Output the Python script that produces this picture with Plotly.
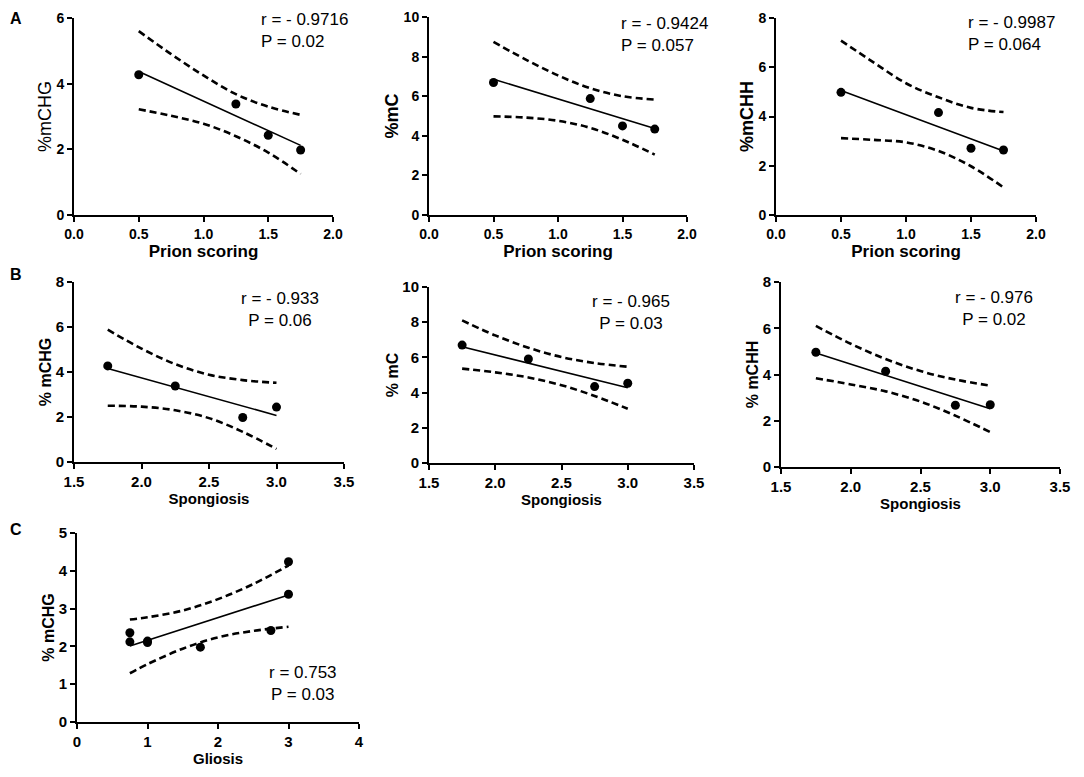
import plotly.graph_objects as go

# the page adds an 8px body margin, so the figure is drawn 8px in from the corner
OFF = 8
W, H = 1084 - OFF, 777 - OFF

# ---- data ----
# Row A: prion scoring vs methylation
prion_x = [0.5, 1.25, 1.5, 1.75]
prion_band_x = [0.5, 0.75, 1.0, 1.25, 1.5, 1.75]
prion_fit_x = [0.5, 1.75]

a_mchg = [4.27, 3.38, 2.43, 1.98]
a_mchg_fit = [4.37, 2.12]
a_mchg_upper = [5.6, 4.9, 4.25, 3.68, 3.3, 3.05]
a_mchg_lower = [3.22, 3.02, 2.78, 2.4, 1.9, 1.25]

a_mc = [6.69, 5.88, 4.5, 4.34]
a_mc_fit = [6.86, 4.37]
a_mc_upper = [8.74, 7.85, 7.05, 6.4, 6.0, 5.83]
a_mc_lower = [4.98, 4.92, 4.76, 4.4, 3.8, 3.05]

a_mchh = [4.98, 4.16, 2.71, 2.64]
a_mchh_fit = [5.06, 2.6]
a_mchh_upper = [7.08, 6.2, 5.35, 4.78, 4.35, 4.18]
a_mchh_lower = [3.12, 3.05, 2.95, 2.6, 1.98, 1.12]

# Row B: spongiosis vs methylation
spong_x = [1.75, 2.25, 2.75, 3.0]
spong_band_x = [1.75, 2.0, 2.25, 2.5, 2.75, 3.0]
spong_fit_x = [1.75, 3.0]

b_mchg = [4.27, 3.38, 1.98, 2.44]
b_mchg_fit = [4.16, 2.07]
b_mchg_upper = [5.88, 5.04, 4.35, 3.88, 3.64, 3.52]
b_mchg_lower = [2.5, 2.46, 2.3, 1.95, 1.34, 0.58]

b_mc = [6.7, 5.91, 4.34, 4.53]
b_mc_fit = [6.6, 4.28]
b_mc_upper = [8.1, 7.25, 6.55, 6.02, 5.68, 5.47]
b_mc_lower = [5.36, 5.15, 4.86, 4.42, 3.81, 3.08]

b_mchh = [4.96, 4.14, 2.67, 2.69]
b_mchh_fit = [4.93, 2.52]
b_mchh_upper = [6.1, 5.33, 4.67, 4.15, 3.78, 3.52]
b_mchh_lower = [3.84, 3.57, 3.27, 2.83, 2.22, 1.51]

# Row C: gliosis vs mCHG
glio_x = [0.75, 0.75, 1.0, 1.0, 1.75, 2.75, 3.0, 3.0]
c_mchg = [2.36, 2.12, 2.14, 2.1, 1.98, 2.42, 4.24, 3.38]
glio_band_x = [0.75, 1.0, 1.5, 2.0, 2.5, 3.0]
glio_fit_x = [0.75, 3.0]
c_mchg_fit = [2.01, 3.36]
c_mchg_upper = [2.71, 2.77, 2.95, 3.25, 3.65, 4.14]
c_mchg_lower = [1.29, 1.53, 1.94, 2.24, 2.41, 2.52]

# panel definitions: pixel box (left, top, right, bottom) in the 1084x777 image
panels = [
    dict(box=(74, 18, 333, 215), x=prion_x, y=a_mchg, fx=prion_fit_x, fy=a_mchg_fit,
         bx=prion_band_x, up=a_mchg_upper, lo=a_mchg_lower,
         xr=[0, 2], xd=0.5, yr=[0, 6], yd=2, xt="Prion scoring", yt="%mCHG",
         tsize=14, xtsize=17, ytsize=18, ybold=False),
    dict(box=(429, 17, 687, 215), x=prion_x, y=a_mc, fx=prion_fit_x, fy=a_mc_fit,
         bx=prion_band_x, up=a_mc_upper, lo=a_mc_lower,
         xr=[0, 2], xd=0.5, yr=[0, 10], yd=2, xt="Prion scoring", yt="%mC",
         tsize=14, xtsize=17, ytsize=18, ybold=True),
    dict(box=(776, 18, 1036, 215), x=prion_x, y=a_mchh, fx=prion_fit_x, fy=a_mchh_fit,
         bx=prion_band_x, up=a_mchh_upper, lo=a_mchh_lower,
         xr=[0, 2], xd=0.5, yr=[0, 8], yd=2, xt="Prion scoring", yt="%mCHH",
         tsize=14, xtsize=17, ytsize=18, ybold=True),
    dict(box=(74, 282, 344, 462), x=spong_x, y=b_mchg, fx=spong_fit_x, fy=b_mchg_fit,
         bx=spong_band_x, up=b_mchg_upper, lo=b_mchg_lower,
         xr=[1.5, 3.5], xd=0.5, yr=[0, 8], yd=2, xt="Spongiosis", yt="% mCHG",
         tsize=15, xtsize=15, ytsize=16, ybold=True),
    dict(box=(429, 287, 694, 463), x=spong_x, y=b_mc, fx=spong_fit_x, fy=b_mc_fit,
         bx=spong_band_x, up=b_mc_upper, lo=b_mc_lower,
         xr=[1.5, 3.5], xd=0.5, yr=[0, 10], yd=2, xt="Spongiosis", yt="% mC",
         tsize=15, xtsize=15, ytsize=16, ybold=True),
    dict(box=(781, 282, 1060, 467), x=spong_x, y=b_mchh, fx=spong_fit_x, fy=b_mchh_fit,
         bx=spong_band_x, up=b_mchh_upper, lo=b_mchh_lower,
         xr=[1.5, 3.5], xd=0.5, yr=[0, 8], yd=2, xt="Spongiosis", yt="% mCHH",
         tsize=15, xtsize=15, ytsize=16, ybold=True),
    dict(box=(77, 533, 359, 722), x=glio_x, y=c_mchg, fx=glio_fit_x, fy=c_mchg_fit,
         bx=glio_band_x, up=c_mchg_upper, lo=c_mchg_lower,
         xr=[0, 4], xd=1, yr=[0, 5], yd=1, xt="Gliosis", yt="% mCHG",
         tsize=15, xtsize=15, ytsize=16, ybold=True),
]

stats = [
    ("r = - 0.9716<br>P = 0.02", 259, 8, "left"),
    ("r = - 0.9424<br>P = 0.057", 619, 12, "left"),
    ("r = - 0.9987<br>P = 0.064", 966, 11, "left"),
    ("r = - 0.933<br>P = 0.06", 280, 287, "center"),
    ("r = - 0.965<br>P = 0.03", 631, 290, "center"),
    ("r = - 0.976<br>P = 0.02", 994, 286, "center"),
    ("r = 0.753<br>P = 0.03", 303, 661, "center"),
]

labels = [("A", 8, 8), ("B", 8, 264), ("C", 8, 519)]

FONT = "Liberation Sans, Arial, sans-serif"
DASH = "7px,4px"


def px(v):
    return (v - OFF) / W


def py(v):
    return 1 - (v - OFF) / H


fig = go.Figure()
layout = {}

for i, p in enumerate(panels):
    n = "" if i == 0 else str(i + 1)
    xa, ya = "x" + n, "y" + n
    l, t, r, b = p["box"]

    # confidence band (dashed)
    for band in (p["up"], p["lo"]):
        fig.add_trace(go.Scatter(
            x=p["bx"], y=band, mode="lines", xaxis=xa, yaxis=ya,
            line=dict(color="black", width=2.6, dash=DASH, shape="spline"),
            showlegend=False, hoverinfo="skip"))
    # regression line
    fig.add_trace(go.Scatter(
        x=p["fx"], y=p["fy"], mode="lines", xaxis=xa, yaxis=ya,
        line=dict(color="black", width=1.6), showlegend=False))
    # data points
    fig.add_trace(go.Scatter(
        x=p["x"], y=p["y"], mode="markers", xaxis=xa, yaxis=ya,
        marker=dict(color="black", size=9), showlegend=False, cliponaxis=False))

    common = dict(showline=True, linewidth=2, linecolor="black", ticks="outside",
                  ticklen=5, tickwidth=2, tickcolor="black", showgrid=False,
                  zeroline=False, mirror=False, fixedrange=True, automargin=False)
    layout["xaxis" + n] = dict(
        common, domain=[px(l), px(r)], anchor=ya, range=p["xr"], dtick=p["xd"],
        tick0=p["xr"][0], tickformat=".1f" if p["xd"] < 1 else "d",
        tickfont=dict(family=FONT, size=p["tsize"], color="black", weight="bold"),
        title=dict(text=p["xt"], standoff=4,
                   font=dict(family=FONT, size=p["xtsize"], color="black", weight="bold")))
    layout["yaxis" + n] = dict(
        common, domain=[py(b), py(t)], anchor=xa, range=p["yr"], dtick=p["yd"],
        tickfont=dict(family=FONT, size=p["tsize"], color="black", weight="bold"),
        title=dict(text=p["yt"], standoff=0,
                   font=dict(family=FONT, size=p["ytsize"], color="black",
                             weight="bold" if p["ybold"] else "normal")))

annotations = []
for text, x0, y0, align in stats:
    annotations.append(dict(
        text=text, x=px(x0), y=py(y0), xref="paper", yref="paper",
        xanchor=align, yanchor="top", align=align, showarrow=False,
        font=dict(family=FONT, size=17, color="black")))
for text, x0, y0 in labels:
    annotations.append(dict(
        text=text, x=px(x0), y=py(y0), xref="paper", yref="paper",
        xanchor="left", yanchor="top", showarrow=False,
        font=dict(family=FONT, size=16, color="black", weight="bold")))

fig.update_layout(
    width=W, height=H, margin=dict(l=0, r=0, t=0, b=0),
    plot_bgcolor="white", paper_bgcolor="white",
    annotations=annotations, **layout)

fig.write_html("out.html")
